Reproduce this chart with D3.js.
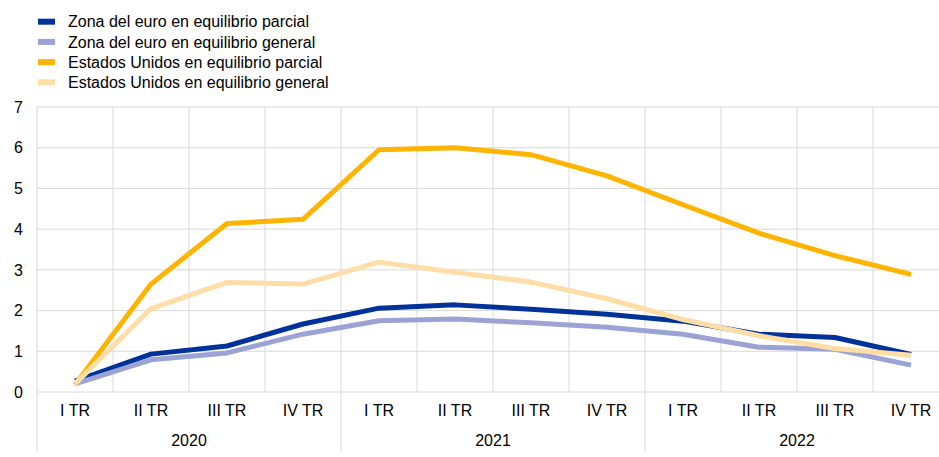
<!DOCTYPE html>
<html>
<head>
<meta charset="utf-8">
<script src="https://cdn.jsdelivr.net/npm/d3@7"></script>
<style>
  body { margin: 0; background: #fff; }
  text { font-family: "Liberation Sans", Arial, sans-serif; font-size: 16px; fill: #000; }
</style>
</head>
<body>
<div id="vis"></div>
<script>
const years = ['2020', '2021', '2022'];
const quarters = ['I TR', 'II TR', 'III TR', 'IV TR'];
const yTicks = [0, 1, 2, 3, 4, 5, 6, 7];

const seriesNames = [
  'Zona del euro en equilibrio parcial',
  'Zona del euro en equilibrio general',
  'Estados Unidos en equilibrio parcial',
  'Estados Unidos en equilibrio general'
];
const euroParcial = [0.27, 0.93, 1.13, 1.67, 2.06, 2.14, 2.03, 1.91, 1.74, 1.42, 1.34, 0.92];
const euroGeneral = [0.2, 0.79, 0.96, 1.42, 1.75, 1.79, 1.70, 1.59, 1.42, 1.10, 1.05, 0.66];
const usParcial = [0.18, 2.65, 4.14, 4.24, 5.95, 6.0, 5.83, 5.31, 4.6, 3.9, 3.35, 2.89];
const usGeneral = [0.2, 2.05, 2.69, 2.65, 3.19, 2.94, 2.70, 2.29, 1.78, 1.38, 1.07, 0.9];
const colors = ['#003299', '#9ba2d4', '#ffb400', '#fedea6'];

const width = 939, height = 457;
const margin = { top: 107, left: 37, bottom: 392, right: 949 };

const cats = [];
years.forEach(yr => quarters.forEach(q => cats.push(yr + ' ' + q)));

const svg = d3.select('#vis')
  .append('svg')
    .attr('width', width)
    .attr('height', height);

const x = d3.scaleBand().domain(cats).range([margin.left, margin.right]).padding(0);
const y = d3.scaleLinear().domain([0, 7]).range([margin.bottom, margin.top]);
const grid = '#d9d9d9';

// horizontal grid
svg.append('g')
  .selectAll('line')
  .data(yTicks)
  .join('line')
    .attr('x1', margin.left).attr('x2', width)
    .attr('y1', d => y(d)).attr('y2', d => y(d))
    .attr('stroke', grid);

// vertical grid (band edges)
svg.append('g')
  .selectAll('line')
  .data(cats)
  .join('line')
    .attr('x1', d => x(d)).attr('x2', d => x(d))
    .attr('y1', margin.top)
    .attr('y2', (d, i) => i % 4 === 0 ? 452 : margin.bottom)
    .attr('stroke', grid);

// y labels
svg.append('g')
  .selectAll('text')
  .data(yTicks)
  .join('text')
    .attr('x', 23)
    .attr('y', d => y(d))
    .attr('dy', '0.36em')
    .attr('text-anchor', 'end')
    .text(d => d);

// quarter labels
svg.append('g')
  .selectAll('text')
  .data(cats)
  .join('text')
    .attr('x', d => x(d) + x.bandwidth() / 2)
    .attr('y', 416)
    .attr('text-anchor', 'middle')
    .text(d => d.split(' ').slice(1).join(' '));

// year labels
svg.append('g')
  .selectAll('text')
  .data(years)
  .join('text')
    .attr('x', (d, i) => x(cats[i * 4]) + x.bandwidth() * 2)
    .attr('y', 446)
    .attr('text-anchor', 'middle')
    .text(d => d);

const line = d3.line()
  .x((d, i) => x(cats[i]) + x.bandwidth() / 2)
  .y(d => y(d));

const allSeries = [euroParcial, euroGeneral, usParcial, usGeneral];
allSeries.forEach((s, i) => {
  svg.append('path')
    .attr('d', line(s))
    .attr('fill', 'none')
    .attr('stroke', colors[i])
    .attr('stroke-width', 5)
    .attr('stroke-linejoin', 'round');
});

// legend
const legend = svg.append('g')
  .selectAll('g')
  .data(seriesNames)
  .join('g')
    .attr('transform', (d, i) => 'translate(38,' + (21.7 + i * 20.2) + ')');

legend.append('rect')
  .attr('x', 0).attr('y', -3)
  .attr('width', 17).attr('height', 6)
  .attr('fill', (d, i) => colors[i]);

legend.append('text')
  .attr('x', 30)
  .attr('dy', '0.36em')
  .text(d => d);
</script>
</body>
</html>
